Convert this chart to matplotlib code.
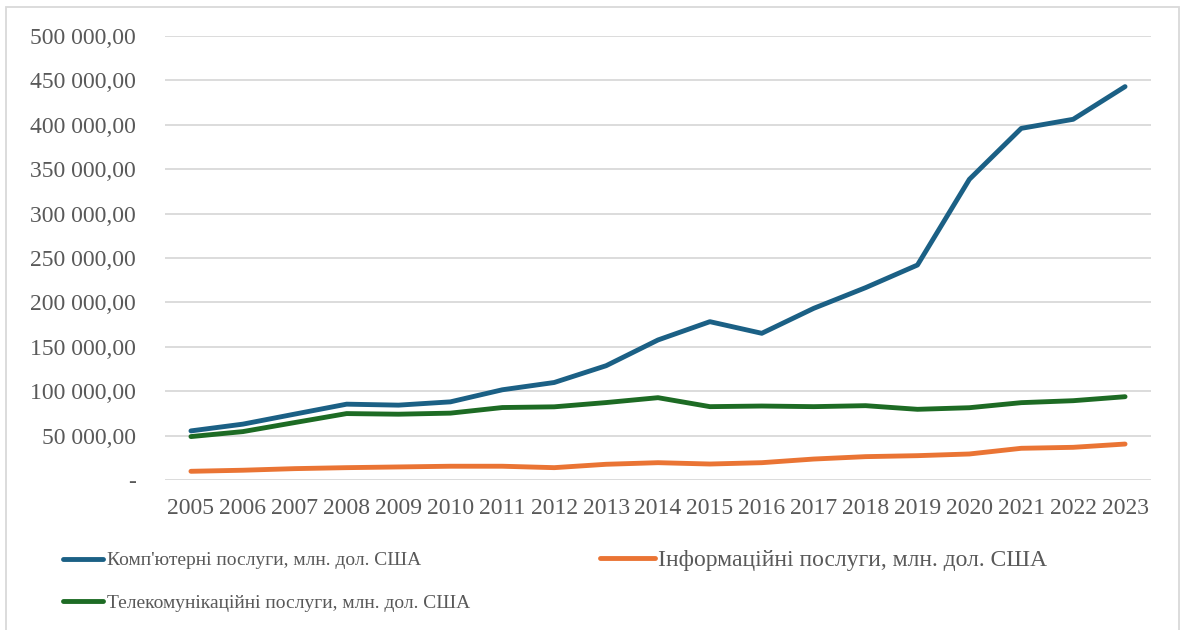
import matplotlib
matplotlib.use("Agg")
import matplotlib.pyplot as plt
from matplotlib.ticker import FuncFormatter
from matplotlib.patches import Rectangle

years = [str(y) for y in range(2005, 2024)]
computer = [55300, 62900, 74200, 85400, 84300, 88000, 101600, 109800, 128700,
            157700, 178300, 165200, 193300, 216600, 242100, 338600, 396000, 406200, 443000]
information = [9800, 11000, 12800, 13900, 14700, 15500, 15500, 13900, 17700,
               19500, 18000, 19500, 23600, 26300, 27400, 29300, 35700, 36800, 40500]
telecom = [48900, 54500, 64700, 74800, 74100, 75300, 81600, 82400, 87200,
           92700, 82600, 83300, 82600, 83700, 79600, 81400, 87100, 89300, 93800]
labels = ["Комп'ютерні послуги, млн. дол. США",
          "Інформаційні послуги, млн. дол. США",
          "Телекомунікаційні послуги, млн. дол. США"]
yticks = list(range(0, 500001, 50000))

plt.rcParams['font.family'] = ['Liberation Serif', 'DejaVu Serif']
text_color = '#595959'
fs = 17

fig = plt.figure(figsize=(11.82, 6.3), dpi=100)
ax = fig.add_axes([165/1182, 1-480/630, (1151-165)/1182, (480-36)/630])

x = list(range(len(years)))
lw = 3.5
l1, = ax.plot(x, computer, color='#1b6085', lw=lw, solid_capstyle='round', solid_joinstyle='round')
l2, = ax.plot(x, information, color='#ea7434', lw=lw, solid_capstyle='round', solid_joinstyle='round')
l3, = ax.plot(x, telecom, color='#1d6b24', lw=lw, solid_capstyle='round', solid_joinstyle='round')

ax.set_xlim(-0.5, len(years) - 0.5)
ax.set_ylim(0, 500000)
ax.set_yticks(yticks)
ax.set_xticks(x)
ax.set_xticklabels(years)

def fmt(v, pos):
    if v == 0:
        return '-'
    s = f"{int(v):,}".replace(',', ' ')
    return s + ',00'

ax.yaxis.set_major_formatter(FuncFormatter(fmt))
ax.grid(axis='y', color='#d9d9d9', lw=1.3)
ax.set_axisbelow(True)
for sp in ax.spines.values():
    sp.set_visible(False)
ax.tick_params(axis='both', length=0, labelsize=fs, colors=text_color)
ax.tick_params(axis='y', pad=21)
ax.tick_params(axis='x', pad=13)

leg1 = fig.legend([l1, l3], [labels[0], labels[2]], ncol=1,
                  loc='upper left', bbox_to_anchor=(55/1182, 1-544/630),
                  frameon=False, fontsize=14, handlelength=2.05, handletextpad=0.2,
                  labelspacing=1.28, borderaxespad=0)
leg2 = fig.legend([l2], [labels[1]], ncol=1,
                  loc='upper left', bbox_to_anchor=(591/1182, 1-540/630),
                  frameon=False, fontsize=fs, handlelength=2.3, handletextpad=0.12,
                  borderaxespad=0)
for lg in (leg1, leg2):
    for t in lg.get_texts():
        t.set_color(text_color)

fig.patches.append(Rectangle((6/1182, -0.05), (1179-6)/1182, 1.05 - 7/630,
                             transform=fig.transFigure, fill=False,
                             edgecolor='#d9d9d9', lw=1.3))

fig.savefig('out.png', dpi=100)
